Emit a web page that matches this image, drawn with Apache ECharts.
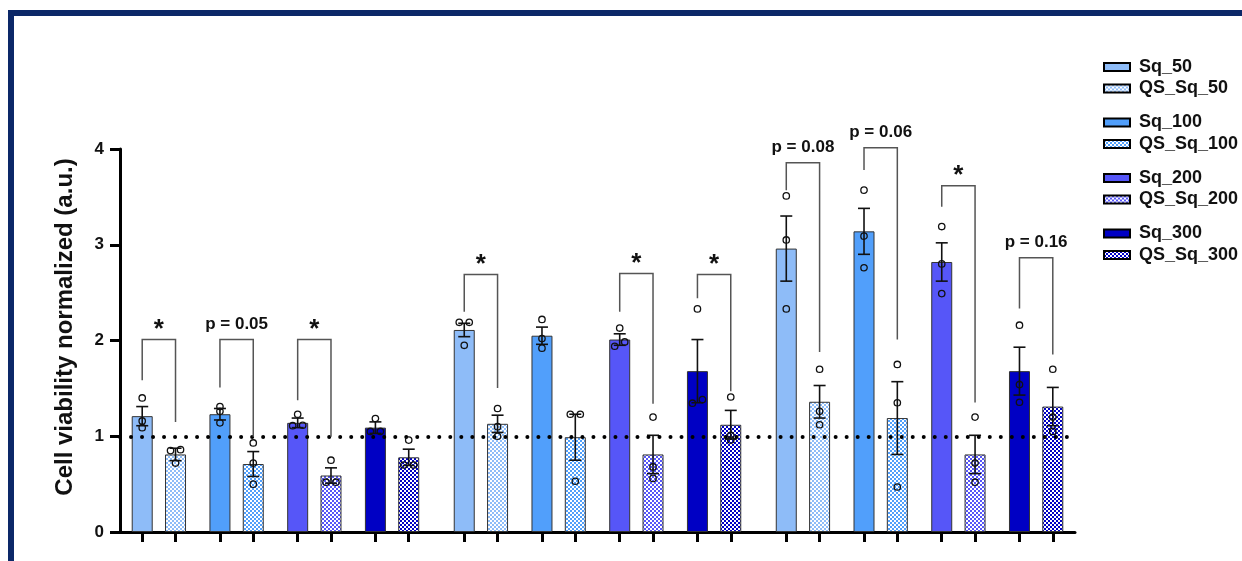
<!DOCTYPE html>
<html>
<head>
<meta charset="utf-8">
<script src="https://cdn.jsdelivr.net/npm/echarts@6/dist/echarts.min.js"></script>
<style>
html,body{margin:0;padding:0;background:#fff;}
#chart{width:1242px;height:561px;}
</style>
</head>
<body>
<div id="chart"></div>
<script>
// ---------------- DATA ----------------
const seriesNames = ['Sq_50','QS_Sq_50','Sq_100','QS_Sq_100','Sq_200','QS_Sq_200','Sq_300','QS_Sq_300'];
const groupNames = ['Group 1','Group 2','Group 3'];

// mean per group (3 groups)
const mean_Sq_50     = [1.21, 2.11, 2.96];
const mean_QS_Sq_50  = [0.81, 1.13, 1.36];
const mean_Sq_100    = [1.23, 2.05, 3.14];
const mean_QS_Sq_100 = [0.71, 0.99, 1.19];
const mean_Sq_200    = [1.14, 2.01, 2.82];
const mean_QS_Sq_200 = [0.59, 0.81, 0.81];
const mean_Sq_300    = [1.09, 1.68, 1.68];
const mean_QS_Sq_300 = [0.78, 1.12, 1.31];

// SEM per group
const sem_Sq_50     = [0.10, 0.07, 0.34];
const sem_QS_Sq_50  = [0.065, 0.09, 0.17];
const sem_Sq_100    = [0.06, 0.09, 0.24];
const sem_QS_Sq_100 = [0.13, 0.24, 0.38];
const sem_Sq_200    = [0.05, 0.06, 0.20];
const sem_QS_Sq_200 = [0.08, 0.20, 0.20];
const sem_Sq_300    = [0.06, 0.33, 0.25];
const sem_QS_Sq_300 = [0.085, 0.15, 0.20];

// individual replicates per group
const pts_Sq_50     = [[1.40,1.16,1.09],[2.19,2.19,1.95],[3.51,3.05,2.33]];
const pts_QS_Sq_50  = [[0.86,0.85,0.72],[1.29,1.10,1.00],[1.70,1.26,1.12]];
const pts_Sq_100    = [[1.31,1.26,1.14],[2.22,2.02,1.92],[3.57,3.09,2.76]];
const pts_QS_Sq_100 = [[0.93,0.72,0.50],[1.23,1.23,0.53],[1.75,1.35,0.47]];
const pts_Sq_200    = [[1.23,1.115,1.11],[2.13,1.94,1.985],[3.19,2.80,2.49]];
const pts_QS_Sq_200 = [[0.75,0.52,0.52],[1.20,0.68,0.56],[1.20,0.72,0.52]];
const pts_Sq_300    = [[1.185,1.05,1.05],[2.33,1.383,1.345],[2.16,1.54,1.355]];
const pts_QS_Sq_300 = [[0.96,0.70,0.70],[1.41,1.01,0.96],[1.70,1.20,1.05]];

// significance brackets: [group, pair, top, leftLegEnd, rightLegEnd]
const bracketDefs = [
  [0,0,2.01,1.585,1.15],[0,1,2.01,1.51,0.995],[0,2,2.01,1.376,0.995],
  [1,0,2.69,2.30,1.505],[1,2,2.70,2.30,1.34],[1,3,2.69,2.44,1.47],
  [2,0,3.856,3.57,1.88],[2,1,4.013,3.78,2.01],[2,2,3.616,3.396,1.352],[2,3,2.863,2.334,1.854]
];
const bracketLabels = ['*','p = 0.05','*','*','*','*','p = 0.08','p = 0.06','*','p = 0.16'];

const yTicks = [0,1,2,3,4];
const yTitle = 'Cell viability normalized (a.u.)';
// --------------------------------------

const means = [mean_Sq_50,mean_QS_Sq_50,mean_Sq_100,mean_QS_Sq_100,mean_Sq_200,mean_QS_Sq_200,mean_Sq_300,mean_QS_Sq_300];
const sems  = [sem_Sq_50,sem_QS_Sq_50,sem_Sq_100,sem_QS_Sq_100,sem_Sq_200,sem_QS_Sq_200,sem_Sq_300,sem_QS_Sq_300];
const pts   = [pts_Sq_50,pts_QS_Sq_50,pts_Sq_100,pts_QS_Sq_100,pts_Sq_200,pts_QS_Sq_200,pts_Sq_300,pts_QS_Sq_300];

const baseColors = ['#8ebcf8','#8ebcf8','#519ffb','#519ffb','#5656f8','#5656f8','#0000c4','#0000c4'];
const FONT = 'Arial, "Liberation Sans", sans-serif';

function checker(col){
  const c = document.createElement('canvas');
  c.width = 4; c.height = 4;
  const g = c.getContext('2d');
  g.fillStyle = '#ffffff'; g.fillRect(0,0,4,4);
  g.fillStyle = col; g.fillRect(0,0,2,2); g.fillRect(2,2,2,2);
  return {image: c, repeat: 'repeat'};
}

// slot layout on a fine category axis
const slotOffsets = [0,3,7,10,14,17,21,24];
const groupStride = 29, lead = 2, totalSlots = 87;
const slotOf = (g,k) => lead + g*groupStride + slotOffsets[k];
const categories = Array.from({length: totalSlots}, () => '');
const tickSlots = new Set();
for (let g=0; g<3; g++) for (let k=0;k<8;k++) tickSlots.add(slotOf(g,k));

const series = [];
seriesNames.forEach((name,k) => {
  const data = Array.from({length: totalSlots}, () => '-');
  for (let g=0; g<3; g++) data[slotOf(g,k)] = means[k][g];
  series.push({
    name, type:'bar', data, barWidth: 21, barGap:'-100%',
    itemStyle: {
      color: (k%2===0) ? baseColors[k] : checker(baseColors[k]),
      borderColor:'#333333', borderWidth:1
    },
    z: 2
  });
});

// error bars
const errData = [];
for (let k=0;k<8;k++) for (let g=0; g<3; g++) errData.push([slotOf(g,k), means[k][g], sems[k][g]]);
series.push({
  type:'custom', z: 4, clip:false, data: errData, encode:{x:0, y:1},
  renderItem: (params, api) => {
    const x = api.value(0), m = api.value(1), s = api.value(2);
    const t = api.coord([x, m+s]), b = api.coord([x, m-s]);
    const h = 6, st = {stroke:'#111', lineWidth:1.6};
    return {type:'group', children:[
      {type:'line', shape:{x1:t[0],y1:t[1],x2:b[0],y2:b[1]}, style:st},
      {type:'line', shape:{x1:t[0]-h,y1:t[1],x2:t[0]+h,y2:t[1]}, style:st},
      {type:'line', shape:{x1:b[0]-h,y1:b[1],x2:b[0]+h,y2:b[1]}, style:st}
    ]};
  }
});

// replicate points (spread horizontally only when values nearly coincide)
const ptData = [];
for (let k=0;k<8;k++) for (let g=0; g<3; g++) {
  const arr = pts[k][g];
  const dir = arr.map(()=>0);
  for (let i=0;i<arr.length;i++) for (let j=i+1;j<arr.length;j++) {
    if (Math.abs(arr[i]-arr[j]) < 0.048) {
      if (arr[i] <= arr[j]) { dir[i] = -1; dir[j] = 1; } else { dir[i] = 1; dir[j] = -1; }
    }
  }
  arr.forEach((v,i) => ptData.push([slotOf(g,k), v, dir[i]]));
}
series.push({
  type:'custom', z: 5, clip:false, data: ptData, encode:{x:0, y:1},
  renderItem: (params, api) => {
    const p = api.coord([api.value(0), api.value(1)]);
    return {type:'circle', shape:{cx: p[0] + api.value(2)*5, cy: p[1], r: 3.2},
      style:{fill:'rgba(255,255,255,0)', stroke:'#111', lineWidth:1.3}};
  }
});

// brackets
const brData = bracketDefs.map(d => [slotOf(d[0], d[1]*2), slotOf(d[0], d[1]*2+1), d[2], d[3], d[4]]);
series.push({
  type:'custom', z: 6, clip:false, data: brData, encode:{x:[0,1], y:[2,3,4]},
  renderItem: (params, api) => {
    const xl = api.value(0), xr = api.value(1), top = api.value(2), lb = api.value(3), rb = api.value(4);
    const a = api.coord([xl, lb]), b = api.coord([xl, top]), c = api.coord([xr, top]), d = api.coord([xr, rb]);
    const lab = bracketLabels[params.dataIndex];
    const star = lab === '*';
    return {type:'group', children:[
      {type:'polyline', shape:{points:[a,b,c,d]}, style:{stroke:'#555', lineWidth:1.5, fill:null}},
      {type:'text', x:(b[0]+c[0])/2, y: star ? b[1]+3 : b[1]-7,
        style:{text: lab, align:'center', verticalAlign:'bottom', fill:'#111',
          font: (star ? 'bold 26px ' : 'bold 17px ') + FONT}}
    ]};
  }
});

// dotted reference line at 1
series[7].markLine = {
  silent:true, symbol:['none','none'], label:{show:false}, animation:false,
  data:[{yAxis:1}],
  lineStyle:{color:'#000', type:[0.01, 11], width:4, cap:'round'}
};

// legends (pairs)
const legendTops = [53, 108.5, 164, 219.5];
const legends = legendTops.map((top,i) => ({
  data: [seriesNames[i*2], seriesNames[i*2+1]],
  orient:'vertical', left: 1098, top: top,
  itemWidth: 26, itemHeight: 8, itemGap: 3.5,
  icon:'rect',
  itemStyle:{borderColor:'#000', borderWidth:2},
  textStyle:{fontFamily: FONT, fontWeight:'bold', fontSize:18, color:'#111', lineHeight:18, padding:[0,0,0,4]},
  selectedMode:false
}));

const option = {
  animation:false,
  backgroundColor:'#ffffff',
  grid:{left:120, right:167, top:149, bottom:29, containLabel:false},
  legend: legends,
  xAxis:{
    type:'category', data: categories, boundaryGap:false,
    axisLine:{lineStyle:{color:'#000', width:3}},
    axisTick:{show:true, length:10, lineStyle:{color:'#000', width:3},
      interval:(idx) => tickSlots.has(idx)},
    axisLabel:{show:false},
    splitLine:{show:false}
  },
  yAxis:{
    type:'value', min: yTicks[0], max: yTicks[yTicks.length-1], interval:1,
    axisLine:{show:true, lineStyle:{color:'#000', width:3}},
    axisTick:{show:true, length:10, lineStyle:{color:'#000', width:3}},
    axisLabel:{color:'#111', fontFamily:FONT, fontWeight:'bold', fontSize:17, margin:16},
    splitLine:{show:false}
  },
  graphic:[
    {type:'rect', shape:{x:8, y:10, width:1234, height:6}, style:{fill:'#0c2868'}, silent:true},
    {type:'rect', shape:{x:8, y:10, width:6, height:551}, style:{fill:'#0c2868'}, silent:true},
    {type:'text', x:65, y:327, rotation:Math.PI/2,
      style:{text:yTitle, align:'center', verticalAlign:'middle', fill:'#111',
        font:'bold 24px ' + FONT}}
  ],
  series
};

const chart = echarts.init(document.getElementById('chart'), null, {renderer:'canvas'});
chart.setOption(option);
</script>
</body>
</html>
